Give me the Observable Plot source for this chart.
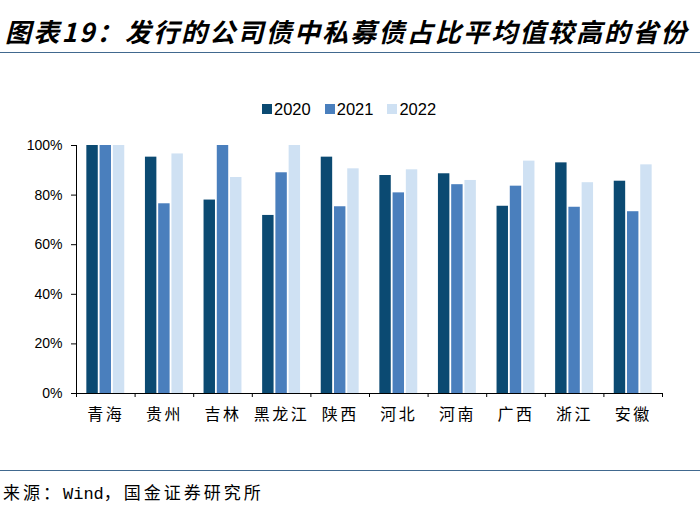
<!DOCTYPE html>
<html>
<head>
<meta charset="utf-8">
<script src="https://cdn.jsdelivr.net/npm/d3@7"></script>
<script src="https://cdn.jsdelivr.net/npm/@observablehq/plot@0.6"></script>
<style>
  html, body { margin: 0; padding: 0; background: #fff; }
  #page { position: relative; width: 700px; height: 513px; overflow: hidden; background: #fff; color: #000; }
  #title { position: absolute; left: 5px; top: 16px; font-family: "Noto Sans CJK SC", sans-serif; font-weight: bold; font-style: italic; font-size: 26px; line-height: 30px; letter-spacing: 2.2px; white-space: nowrap; }
  .rule { position: absolute; left: 0; width: 700px; height: 1px; background: #41698f; }
  #legend { position: absolute; left: 262px; top: 99px; display: flex; align-items: center; font-family: "Liberation Sans", Arial, sans-serif; font-size: 16.5px; line-height: 20px; }
  .item { display: flex; align-items: center; margin-right: 14px; }
  .sw { width: 10px; height: 10px; margin-right: 2px; }
  #chart { position: absolute; left: 0; top: 130px; }
  #caption { position: absolute; left: 3px; top: 482px; font-family: "Noto Sans CJK SC", sans-serif; font-size: 17px; line-height: 20px; letter-spacing: 3px; white-space: nowrap; }
  #caption .lat { font-family: "Liberation Mono", monospace; letter-spacing: 0; }
  g[aria-label="x-axis tick label"] { letter-spacing: 2.5px; }
</style>
</head>
<body>
<div id="page">
  <div id="title">图表19：发行的公司债中私募债占比平均值较高的省份</div>
  <div class="rule" style="top:52px"></div>
  <div id="legend"></div>
  <div id="chart"></div>
  <div class="rule" style="top:470px"></div>
  <div id="caption">来源：<span class="lat">Wind</span>，国金证券研究所</div>
</div>
<script>
const provinces = ["青海", "贵州", "吉林", "黑龙江", "陕西", "河北", "河南", "广西", "浙江", "安徽"];
const years = ["2020", "2021", "2022"];
const v2020 = [100, 95.3, 78.0, 71.8, 95.3, 87.9, 88.6, 75.5, 93.0, 85.6];
const v2021 = [100, 76.5, 100, 89.0, 75.3, 80.9, 84.2, 83.6, 75.1, 73.3];
const v2022 = [100, 96.6, 87.1, 100, 90.6, 90.2, 85.9, 93.7, 85.0, 92.2];
const yTicks = [0, 0.2, 0.4, 0.6, 0.8, 1.0];
const colors = ["#0b4a72", "#4a7fbd", "#cfe1f3"];

const series = [v2020, v2021, v2022];

// legend
const legend = document.getElementById("legend");
years.forEach((yr, k) => {
  const it = document.createElement("div");
  it.className = "item";
  it.innerHTML = `<div class="sw" style="background:${colors[k]}"></div><span>${yr}</span>`;
  legend.appendChild(it);
});

const W = 700, H = 300, ML = 76, MR = 38, MT = 15, MB = 37;
const step = (W - ML - MR) / provinces.length;
const barW = step * 0.195, gap = step * 0.031;
const groupW = 3 * barW + 2 * gap;
const start = (step - groupW) / 2;

const barMarks = years.map((yr, k) => Plot.barY(provinces, {
  x: d => d,
  y: (d, i) => series[k][i] / 100,
  fill: colors[k],
  insetLeft: start + k * (barW + gap),
  insetRight: step - start - k * (barW + gap) - barW
}));

const chart = Plot.plot({
  width: W, height: H,
  marginLeft: ML, marginRight: MR, marginTop: MT, marginBottom: MB,
  style: { background: "#fff", color: "#000", overflow: "visible" },
  x: { type: "band", domain: provinces, padding: 0, round: false, axis: null },
  y: { domain: [0, 1], axis: null },
  marks: [
    ...barMarks,
    Plot.ruleY([0], { stroke: "#000", strokeWidth: 1 }),
    Plot.frame({ anchor: "left", stroke: "#000", strokeWidth: 1 }),
    Plot.axisY({ ticks: yTicks, tickFormat: d3.format(".0%"), tickSize: 5, tickPadding: 9, fontSize: 14, fontFamily: "Liberation Sans, Arial, sans-serif", label: null, stroke: "#000" }),
    Plot.axisX({ tickSize: 0, tickPadding: 15, fontSize: 16, fontFamily: "Noto Sans CJK SC, sans-serif", label: null }),
    Plot.axisX({ tickSize: 4, tickFormat: () => "", dx: -step / 2, label: null, stroke: "#000" }),
    Plot.axisX({ ticks: [provinces[provinces.length - 1]], tickSize: 4, tickFormat: () => "", dx: step / 2, label: null, stroke: "#000" })
  ]
});
document.getElementById("chart").appendChild(chart);
</script>
</body>
</html>
